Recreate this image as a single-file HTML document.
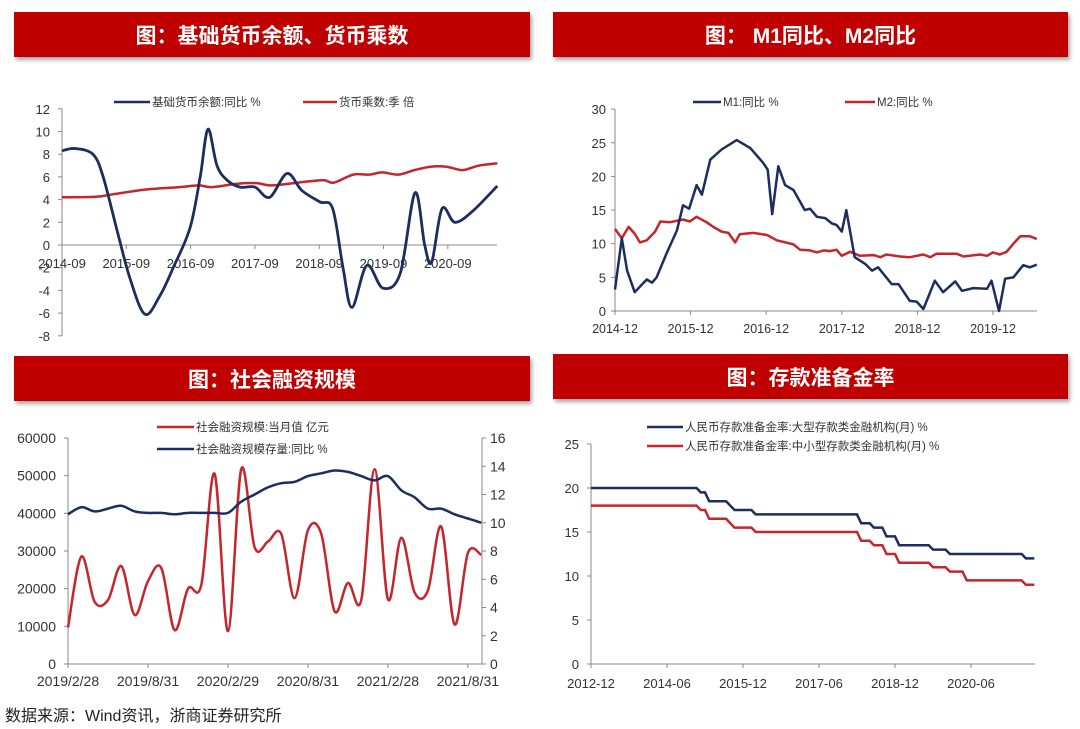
<!DOCTYPE html>
<html><head><meta charset="utf-8">
<style>
body{margin:0;width:1080px;height:729px;background:#fff;overflow:hidden;position:relative;font-family:"Liberation Sans","Noto Sans CJK SC",sans-serif;}
.hdr{position:absolute;background:#c00000;color:#fff;font-weight:bold;font-size:21px;display:flex;align-items:center;justify-content:center;box-shadow:2px 3px 4px rgba(0,0,0,0.35);font-family:"Liberation Sans","Noto Sans CJK SC",sans-serif;}
svg{position:absolute;left:0;top:0;}
svg text{font-family:"Liberation Sans","Noto Sans CJK SC",sans-serif;fill:#333;}
.src{position:absolute;left:5px;top:702px;font-size:16px;color:#222;}
</style></head><body>
<div class="hdr" style="left:14px;top:12px;width:516px;height:45px">图：基础货币余额、货币乘数</div>
<div class="hdr" style="left:553px;top:12px;width:515px;height:45px">图：&nbsp;M1同比、M2同比</div>
<div class="hdr" style="left:14px;top:356px;width:516px;height:45px">图：社会融资规模</div>
<div class="hdr" style="left:553px;top:354px;width:515px;height:45px">图：存款准备金率</div>
<div class="src">数据来源：Wind资讯，浙商证券研究所</div>
<svg id="s" width="1080" height="729"></svg>
<script>
// ---------- Chart 1 data ----------
const c1Times=[2014.67,2014.87,2015.15,2015.31,2015.54,2015.73,2015.96,2016.19,2016.4,2016.66,2016.82,2016.94,2017.08,2017.24,2017.44,2017.67,2017.9,2018.17,2018.4,2018.68,2018.88,2019.04,2019.18,2019.41,2019.66,2019.93,2020.16,2020.31,2020.42,2020.58,2020.78,2021.06,2021.44];
const c1Base=[8.3,8.5,8.0,6.0,1.0,-3.0,-6.1,-4.5,-2.0,1.5,6.0,10.2,7.0,5.7,5.1,5.1,4.2,6.3,4.8,3.8,3.2,-2.0,-5.5,-1.8,-3.8,-2.5,4.6,0,-1.5,3.2,2.0,3.0,5.2];
const c1MTimes=[2014.67,2015.2,2015.5,2016.0,2016.5,2016.8,2017.0,2017.4,2017.7,2017.9,2018.2,2018.5,2018.75,2018.9,2019.2,2019.45,2019.65,2019.9,2020.15,2020.4,2020.65,2020.9,2021.15,2021.44];
const c1Mult=[4.2,4.25,4.5,4.9,5.1,5.25,5.1,5.4,5.45,5.25,5.4,5.6,5.7,5.5,6.2,6.2,6.4,6.2,6.6,6.9,6.9,6.6,7.0,7.2];
const c1YTicks=[12,10,8,6,4,2,0,-2,-4,-6,-8];
const c1XLabels=["2014-09","2015-09","2016-09","2017-09","2018-09","2019-09","2020-09"];
// ---------- Chart 2 data ----------
const c2M1T=[0,0.09,0.16,0.26,0.42,0.49,0.55,0.68,0.82,0.9,0.98,1.08,1.15,1.26,1.41,1.61,1.79,1.96,2.02,2.08,2.16,2.25,2.36,2.51,2.58,2.67,2.78,2.87,2.93,3.0,3.06,3.17,3.31,3.4,3.48,3.66,3.75,3.9,3.99,4.08,4.23,4.34,4.5,4.59,4.74,4.92,4.98,5.08,5.16,5.27,5.4,5.49,5.58];
const c2M1=[3.2,10.8,6,2.8,4.7,4.2,5,8.5,12,15.7,15.2,18.7,17.3,22.5,24,25.4,24.2,22,21,14.4,21.5,18.7,18,15,15.2,14,13.8,13,12.8,11.8,15,8,7,6,6.5,4,4,1.5,1.4,0.3,4.5,2.8,4.4,3,3.4,3.3,4.5,0,4.8,5,6.8,6.5,6.9];
const c2M2T=[0,0.09,0.18,0.26,0.33,0.42,0.53,0.6,0.73,0.9,0.99,1.08,1.21,1.3,1.41,1.5,1.59,1.65,1.83,2.01,2.14,2.36,2.45,2.58,2.67,2.76,2.84,2.93,3.0,3.11,3.24,3.42,3.51,3.59,3.77,3.9,4.08,4.17,4.25,4.52,4.61,4.83,4.92,5.0,5.09,5.18,5.27,5.36,5.49,5.58];
const c2M2=[12.2,10.8,12.5,11.5,10.2,10.5,11.8,13.3,13.2,13.6,13.3,14,13.2,12.5,11.8,11.6,10.2,11.4,11.6,11.3,10.5,9.9,9.1,9,8.7,9,8.9,9.1,8.2,8.8,8.2,8.3,8,8.4,8.1,8,8.4,8,8.5,8.5,8.1,8.4,8.2,8.7,8.4,8.8,10,11.1,11.1,10.7];
const c2YTicks=[30,25,20,15,10,5,0];
const c2XLabels=["2014-12","2015-12","2016-12","2017-12","2018-12","2019-12"];
// ---------- Chart 3 data ----------
const c3Tsf=[9700,28500,16500,17000,26000,13000,22000,25500,9000,20000,21000,50500,8700,51800,31000,32500,34500,17500,35500,34500,14000,21500,17000,51700,17200,33500,19000,19500,36500,10500,29500,29000];
const c3Yoy=[10.6,11.1,10.8,11.0,11.2,10.8,10.7,10.7,10.6,10.7,10.7,10.7,10.7,11.5,12.0,12.5,12.8,12.9,13.3,13.5,13.7,13.6,13.3,13.0,13.3,12.3,11.8,11.0,11.0,10.6,10.3,10.0];
const c3LTicks=[60000,50000,40000,30000,20000,10000,0];
const c3RTicks=[16,14,12,10,8,6,4,2,0];
const c3XLabels=["2019/2/28","2019/8/31","2020/2/29","2020/8/31","2021/2/28","2021/8/31"];
// ---------- Chart 4 data (month index from 2012-12) ----------
const c4BigMonths=[0,26,28,33,34,39,64,67,70,73,81,85,103,105];
const c4Big=[20,19.5,18.5,18,17.5,17,16,15.5,14.5,13.5,13,12.5,12,12];
const c4SmallMonths=[0,26,28,33,34,39,64,67,70,73,81,85,89,103,105];
const c4Small=[18,17.5,16.5,16,15.5,15,14,13.5,12.5,11.5,11,10.5,9.5,9,9];
const c4YTicks=[25,20,15,10,5,0];
const c4XLabels=["2012-12","2014-06","2015-12","2017-06","2018-12","2020-06"];

const NAVY="#1c2d5e", RED="#c3262c";
const svg=document.getElementById('s');
const NS="http://www.w3.org/2000/svg";
function mk(tag,attrs){const e=document.createElementNS(NS,tag);for(const k in attrs)e.setAttribute(k,attrs[k]);svg.appendChild(e);return e;}
function txt(x,y,s,anchor,size){const t=mk('text',{x:x,y:y,'text-anchor':anchor,'font-size':size||13});t.textContent=s;return t;}
function smooth(p){let d="M"+p[0][0].toFixed(1)+","+p[0][1].toFixed(1);for(let i=0;i<p.length-1;i++){const p0=p[i-1]||p[i],p1=p[i],p2=p[i+1],p3=p[i+2]||p2;const c1x=p1[0]+(p2[0]-p0[0])/6,c1y=p1[1]+(p2[1]-p0[1])/6,c2x=p2[0]-(p3[0]-p1[0])/6,c2y=p2[1]-(p3[1]-p1[1])/6;d+=" C"+c1x.toFixed(1)+","+c1y.toFixed(1)+" "+c2x.toFixed(1)+","+c2y.toFixed(1)+" "+p2[0].toFixed(1)+","+p2[1].toFixed(1);}return d;}
function poly(p){return "M"+p.map(q=>q[0].toFixed(1)+","+q[1].toFixed(1)).join(" L");}
function line(x1,y1,x2,y2){return mk('line',{x1:x1,y1:y1,x2:x2,y2:y2,stroke:'#888','stroke-width':1});}
function legend(x,y,w,color,label,name){const l=mk('line',{x1:x,y1:y,x2:x+w,y2:y,stroke:color,'stroke-width':2.5});const t=txt(x+w+2,y+4,label,'start',11.5);}

// ===== Chart 1 =====
(function(){
 const X=t=>62+(t-2014.67)*64.3, Y=v=>245-v*11.35;
 line(62,Y(12),62,Y(-8)); line(62,Y(0),497,Y(0));
 c1YTicks.forEach(v=>{line(58,Y(v),62,Y(v));const t=txt(50,Y(v)+5,String(v),'end',13);});
 c1XLabels.forEach((s,i)=>{const x=X(2014.67+i);line(x,Y(0),x,Y(0)+4);const t=txt(x,Y(0)+23,s,'middle',13);});
 const m=mk('path',{d:smooth(c1MTimes.map((t,i)=>[X(t),Y(c1Mult[i])])),fill:'none',stroke:RED,'stroke-width':2.5});
 
 const b=mk('path',{d:smooth(c1Times.map((t,i)=>[X(t),Y(c1Base[i])])),fill:'none',stroke:NAVY,'stroke-width':2.8});
 
 legend(114,102,36,NAVY,'基础货币余额:同比 %','c1-legend-base');
 legend(303,102,34,RED,'货币乘数:季 倍','c1-legend-multiplier');
})();
// ===== Chart 2 =====
(function(){
 const X=t=>615+t*75.6, Y=v=>311-v*6.73;
 line(615,Y(30),615,Y(0)); line(615,Y(0),1037,Y(0));
 c2YTicks.forEach(v=>{line(611,Y(v),615,Y(v));const t=txt(606,Y(v)+5,String(v),'end',13);});
 c2XLabels.forEach((s,i)=>{const x=X(i);line(x,Y(0),x,Y(0)+4);const t=txt(x,Y(0)+22,s,'middle',12.5);});
 const m2=mk('path',{d:poly(c2M2T.map((t,i)=>[X(t),Y(c2M2[i])])),fill:'none',stroke:RED,'stroke-width':2.5,'stroke-linejoin':'round'});
 
 const m1=mk('path',{d:poly(c2M1T.map((t,i)=>[X(t),Y(c2M1[i])])),fill:'none',stroke:NAVY,'stroke-width':2.5,'stroke-linejoin':'round'});
 
 legend(693,102,28,NAVY,'M1:同比 %','c2-legend-m1');
 legend(845,102,30,RED,'M2:同比 %','c2-legend-m2');
})();
// ===== Chart 3 =====
(function(){
 const X=i=>68+i*13.33, YL=v=>664-v/60000*226, YR=v=>664-v/16*226;
 line(68,438,68,664); line(482,438,482,664); line(68,664,482,664);
 c3LTicks.forEach(v=>{line(64,YL(v),68,YL(v));const t=txt(56,YL(v)+5,String(v),'end',14);});
 c3RTicks.forEach(v=>{line(482,YR(v),486,YR(v));const t=txt(490,YR(v)+5,String(v),'start',14);});
 c3XLabels.forEach((s,i)=>{const x=X(i*6);line(x,664,x,668);const t=txt(x,686,s,'middle',14);});
 const r=mk('path',{d:smooth(c3Tsf.map((v,i)=>[X(i),YL(v)])),fill:'none',stroke:RED,'stroke-width':2.5});
 
 const b=mk('path',{d:smooth(c3Yoy.map((v,i)=>[X(i),YR(v)])),fill:'none',stroke:NAVY,'stroke-width':2.5});
 
 legend(157,427,37,RED,'社会融资规模:当月值 亿元','c3-legend-monthly');
 legend(157,449,37,NAVY,'社会融资规模存量:同比 %','c3-legend-yoy');
})();
// ===== Chart 4 =====
(function(){
 const X=m=>591+m*4.222, Y=v=>664-v*8.8;
 line(591,Y(25),591,Y(0)); line(591,Y(0),1035,Y(0));
 c4YTicks.forEach(v=>{line(587,Y(v),591,Y(v));const t=txt(579,Y(v)+5,String(v),'end',13);});
 c4XLabels.forEach((s,i)=>{const x=X(i*18);line(x,Y(0),x,Y(0)+4);const t=txt(x,Y(0)+24,s,'middle',13);});
 function steps(ms,vs){const p=[];for(let i=0;i<ms.length;i++){if(i>0)p.push([X(ms[i]-1),Y(vs[i-1])]);p.push([X(ms[i]),Y(vs[i])]);}return p;}
 const s=mk('path',{d:poly(steps(c4SmallMonths,c4Small)),fill:'none',stroke:RED,'stroke-width':2.5});
 
 const b=mk('path',{d:poly(steps(c4BigMonths,c4Big)),fill:'none',stroke:NAVY,'stroke-width':2.5});
 
 legend(647,427,36,NAVY,'人民币存款准备金率:大型存款类金融机构(月) %','c4-legend-large');
 legend(647,446,36,RED,'人民币存款准备金率:中小型存款类金融机构(月) %','c4-legend-small');
})();
</script>
</body></html>
